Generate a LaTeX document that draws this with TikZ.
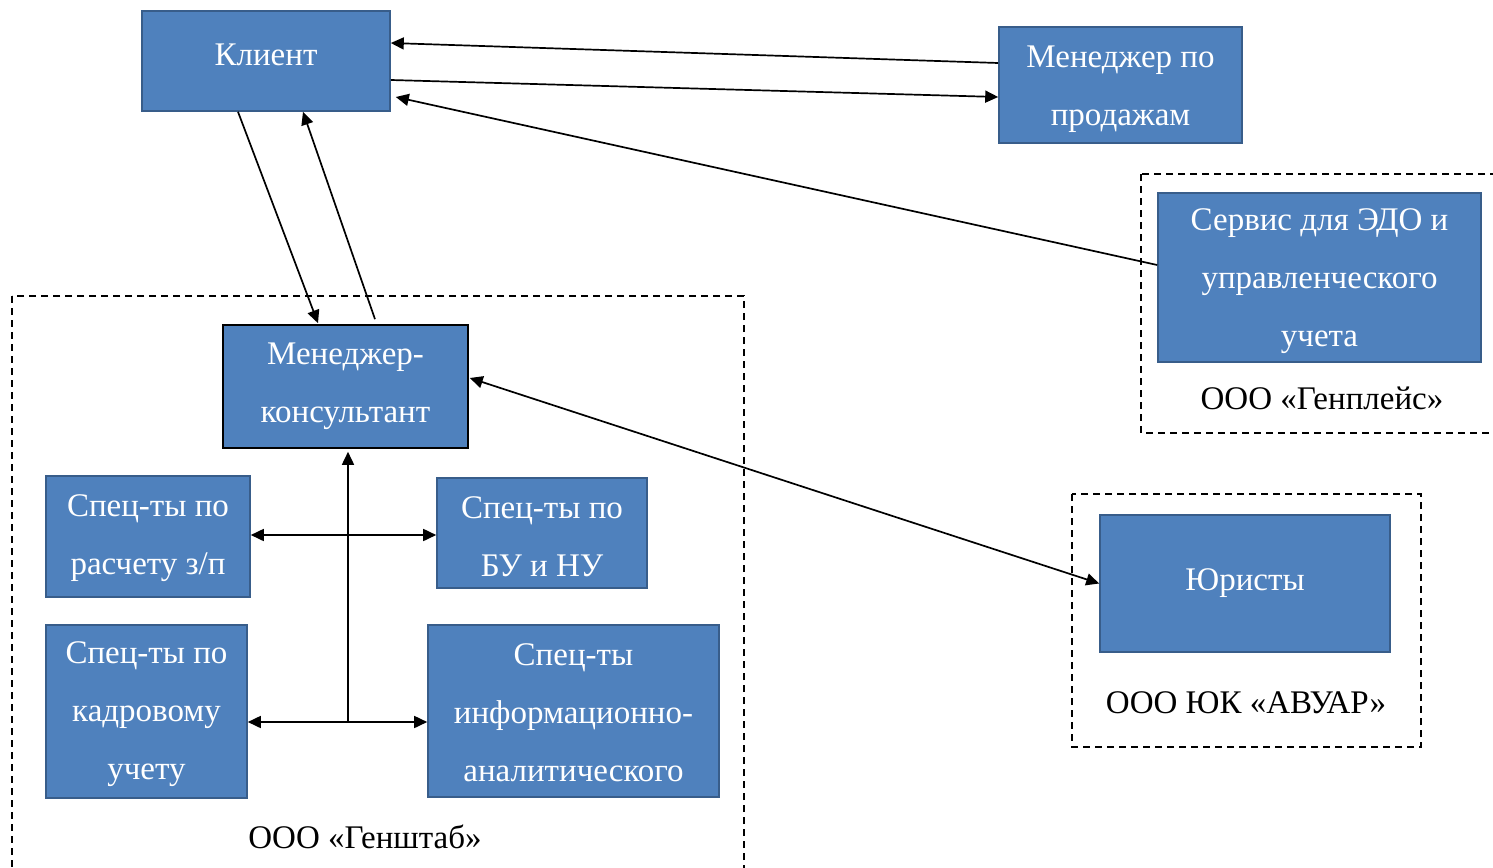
\documentclass[tikz,border=0pt]{standalone}
\usepackage{fontspec}
\setmainfont{Liberation Serif}
\usetikzlibrary{arrows.meta,calc}
\definecolor{boxfill}{HTML}{4F81BD}
\definecolor{boxline}{HTML}{385D8A}
\begin{document}
\begin{tikzpicture}[x=1pt,y=-1pt,
  box/.style={rectangle,draw=boxline,fill=boxfill,line width=1.6pt,text=white,
    align=center,inner sep=0pt,font=\fontsize{33}{58}\selectfont},
  lbl/.style={anchor=base,inner sep=0pt,font=\fontsize{33}{58}\selectfont},
  group/.style={draw=black,line width=1.6pt,dash pattern=on 7pt off 5pt},
  conn/.style={draw=black,line width=1.7pt,-{Triangle[length=13pt,width=12pt]}},
  dconn/.style={draw=black,line width=1.7pt,{Triangle[length=13pt,width=12pt]}-{Triangle[length=13pt,width=12pt]}}]
\useasboundingbox (0,0) rectangle (1493,867);
\clip (0,0) rectangle (1493,867);
% groups
\draw[group] (12,296) rectangle (744,890);
\draw[group] (1141,174) rectangle (1510,433);
\draw[group] (1072,494) rectangle (1421,747);
% boxes
\node[box,minimum width=248,minimum height=100,text depth=12pt] (kl) at (266,61) {Клиент};
\node[box,minimum width=243,minimum height=116] (ms) at (1120.5,85) {\rule{0pt}{30pt}Менеджер по\\продажам};
\node[box,minimum width=323,minimum height=169] (edo) at (1319.5,277.5) {\rule{0pt}{30pt}Сервис для ЭДО и\\управленческого\\учета};
\node[box,draw=black,minimum width=245,minimum height=123] (mk) at (345.5,386.5) {Менеджер-\\консультант};
\node[box,minimum width=204,minimum height=121] (zp) at (148,536.5) {\rule{0pt}{26pt}Спец-ты по\\расчету з/п};
\node[box,minimum width=210,minimum height=110] (bu) at (542,533) {\rule{0pt}{30pt}Спец-ты по\\БУ и НУ};
\node[box,minimum width=201,minimum height=173] (kd) at (146.5,711.5) {\rule{0pt}{28pt}Спец-ты по\\кадровому\\учету};
\node[box,minimum width=291,minimum height=172] (ia) at (573.5,711) {\rule{0pt}{26pt}Спец-ты\\информационно-\\аналитического};
\node[box,minimum width=290,minimum height=137] (ur) at (1245,583.5) {Юристы};
% labels
\node[lbl] (lgs) at (365,848) {ООО «Генштаб»};
\node[lbl] (lgp) at (1322,409) {ООО «Генплейс»};
\node[lbl] (lav) at (1246,713) {ООО ЮК «АВУАР»};
% connectors
\draw[conn] ($(ms.west)+(0,-22)$) -- ($(kl.east)+(0,-18)$);
\draw[conn] ($(kl.east)+(0,19)$) -- ($(ms.west)+(0,12)$);
\draw[conn] ($(edo.west)+(0,-12.5)$) -- ($(kl.east)+(5,36)$);
\draw[conn] ($(kl.south)+(-28,0)$) -- ($(mk.north)+(-27.5,-1)$);
\draw[conn] ($(mk.north)+(29.5,-5)$) -- ($(kl.south)+(37,0)$);
\draw[dconn] ($(mk.east)+(1,-8.5)$) -- (ur.west);
\coordinate (j1) at (348,535);
\coordinate (j2) at (348,722);
\draw[conn] (j2) -- ($(mk.south)+(2.5,3)$);
\draw[conn] (j1) -- (zp.east |- j1);
\draw[conn] (j1) -- (bu.west |- j1);
\draw[conn] (j2) -- (kd.east |- j2);
\draw[conn] (j2) -- (ia.west |- j2);
\end{tikzpicture}
\end{document}
